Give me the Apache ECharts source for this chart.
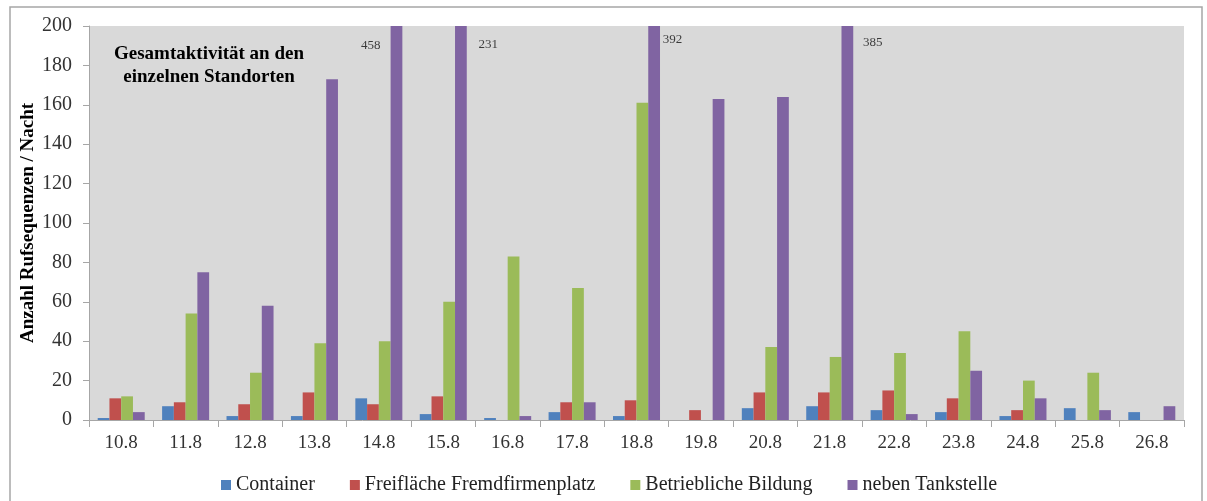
<!DOCTYPE html>
<html>
<head>
<meta charset="utf-8">
<script src="https://cdn.jsdelivr.net/npm/echarts@6/dist/echarts.min.js"></script>
<style>html,body{margin:0;padding:0;background:#fff}#c{width:1207px;height:501px}</style>
</head>
<body>
<div id="c"></div>
<script>
const categories = ['10.8','11.8','12.8','13.8','14.8','15.8','16.8','17.8','18.8','19.8','20.8','21.8','22.8','23.8','24.8','25.8','26.8'];
const container = [1, 7, 2, 2, 11, 3, 1, 4, 2, 0, 6, 7, 5, 4, 2, 6, 4];
const freiflaeche = [11, 9, 8, 14, 8, 12, 0, 9, 10, 5, 14, 14, 15, 11, 5, 0, 0];
const betrieblich = [12, 54, 24, 39, 40, 60, 83, 67, 161, 0, 37, 32, 34, 45, 20, 24, 0];
const tankstelle = [4, 75, 58, 173, 458, 231, 2, 9, 392, 163, 164, 385, 3, 25, 11, 5, 7];
const seriesNames = ['Container', 'Freifläche Fremdfirmenplatz', 'Betriebliche Bildung', 'neben Tankstelle'];
const yTicks = [0, 20, 40, 60, 80, 100, 120, 140, 160, 180, 200];

const FONT = 'Liberation Serif';
const colors = ['#4F81BD', '#C0504D', '#9BBB59', '#8064A2'];
const yMax = yTicks[yTicks.length - 1];

// labels for bars that exceed the axis maximum
const overflowIdx = tankstelle.map((v, i) => v > yMax ? i : -1).filter(i => i >= 0);
const labelOffsets = { '14.8': [-8, 0], '15.8': [45, -1], '18.8': [36, -6], '21.8': [43, -3] };
const labelData = overflowIdx.map(i => ({
  value: [categories[i], yMax * 0.95, tankstelle[i]],
  label: { offset: labelOffsets[categories[i]] || [40, 0] }
}));

const chart = echarts.init(document.getElementById('c'), null, { renderer: 'canvas' });
const barSeries = [container, freiflaeche, betrieblich, tankstelle].map((d, k) => ({
  name: seriesNames[k],
  type: 'bar',
  data: d,
  barGap: '0%',
  barCategoryGap: '27%',
  clip: true,
  itemStyle: { color: colors[k] },
  emphasis: { disabled: true }
}));

chart.setOption({
  animation: false,
  backgroundColor: '#fff',
  title: {
    text: 'Gesamtaktivität an den\neinzelnen Standorten',
    left: 204,
    top: 38,
    textAlign: 'center',
    textStyle: { fontFamily: FONT, fontWeight: 'bold', fontSize: 19, lineHeight: 23, color: '#000' }
  },
  graphic: [{
    type: 'rect',
    shape: { x: 10, y: 7, width: 1192, height: 500 },
    style: { fill: 'none', stroke: '#A6A6A6', lineWidth: 1.5 },
    silent: true
  }],
  grid: { left: 89, right: 23, top: 26, bottom: 81, show: true, backgroundColor: '#D9D9D9', borderWidth: 0, containLabel: false },
  legend: {
    data: seriesNames,
    left: 216,
    top: 470,
    itemWidth: 10,
    itemHeight: 10,
    itemGap: 35,
    icon: 'rect',
    textStyle: { fontFamily: FONT, fontSize: 20, color: '#222' }
  },
  xAxis: {
    type: 'category',
    data: categories,
    axisLine: { lineStyle: { color: '#A6A6A6' } },
    axisTick: { show: true, length: 7, lineStyle: { color: '#A6A6A6' } },
    axisLabel: { fontFamily: FONT, fontSize: 19, color: '#333', margin: 14 },
    splitLine: { show: false }
  },
  yAxis: {
    type: 'value',
    min: yTicks[0],
    max: yMax,
    interval: yTicks[1] - yTicks[0],
    name: 'Anzahl Rufsequenzen / Nacht',
    nameLocation: 'middle',
    nameGap: 51,
    nameMoveOverlap: false,
    nameTextStyle: { fontFamily: FONT, fontWeight: 'bold', fontSize: 19, color: '#000' },
    axisLine: { show: true, lineStyle: { color: '#A6A6A6' } },
    axisTick: { show: true, length: 6, lineStyle: { color: '#A6A6A6' } },
    axisLabel: { fontFamily: FONT, fontSize: 20, color: '#333', margin: 17 },
    splitLine: { show: false }
  },
  series: barSeries.concat([{
    name: 'overflow',
    type: 'scatter',
    symbolSize: 0,
    data: labelData,
    silent: true,
    label: {
      show: true,
      position: 'inside',
      formatter: p => String(p.value[2]),
      fontFamily: FONT,
      fontSize: 13,
      color: '#111'
    }
  }])
});
</script>
</body>
</html>
